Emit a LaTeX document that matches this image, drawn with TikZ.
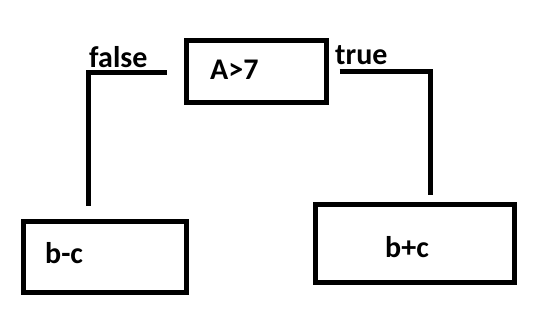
\documentclass[tikz,border=0pt]{standalone}
\usepackage{fontspec}
\setmainfont{Carlito}
\begin{document}
\begin{tikzpicture}[x=1pt,y=-1pt,
  box/.style={draw,line width=5pt,inner sep=0pt,minimum width=#1},
  txt/.style={anchor=base west,inner sep=0pt,font=\fontsize{30}{30}\selectfont\bfseries},
  conn/.style={line width=5pt}]
\useasboundingbox (0,0) rectangle (549,329);
\node[box=140pt,minimum height=61pt] (cond) at (256,71.5) {};
\node[box=163pt,minimum height=71pt] (lbox) at (104.5,256.5) {};
\node[box=199pt,minimum height=78pt] (rbox) at (414.5,243) {};
\node[txt] (ct) at (210,80) {A>7};
\node[txt] (lt) at (45,263) {b-c};
\node[txt] (rt) at (385,257) {b+c};
\node[txt] (fl) at (89,67) {false};
\node[txt] (tl) at (335,65) {true};
\coordinate (f1) at ([xshift=-17pt,yshift=-1.5pt]cond.west);
\coordinate (f2) at ([xshift=-16.5pt,yshift=13pt]lbox.north);
\coordinate (t1) at ([xshift=11pt,yshift=-0.5pt]cond.east);
\coordinate (t2) at ([xshift=15.5pt,yshift=7pt]rbox.north);
\draw[conn] (f1) -- (f1 -| f2) -- (f2);
\draw[conn] (t1) -- (t1 -| t2) -- (t2);
\end{tikzpicture}
\end{document}
